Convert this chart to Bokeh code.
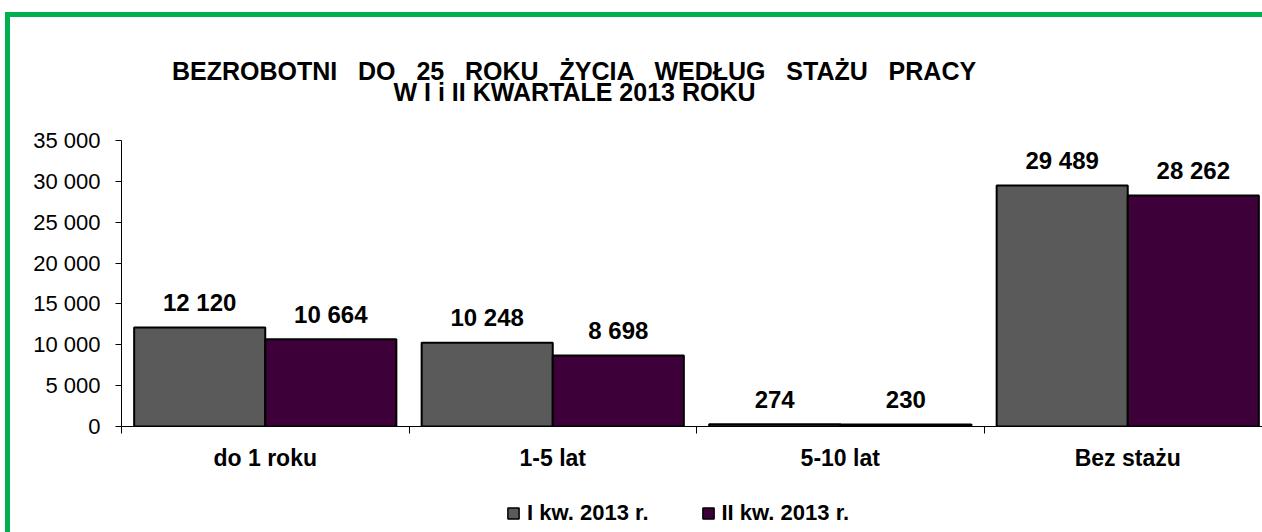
from bokeh.plotting import figure
from bokeh.models import (Range1d, FixedTicker, Label, Legend, LegendItem,
                          ColumnDataSource, Spacer)
from bokeh.layouts import column, row
from bokeh.transform import dodge
from bokeh.embed import file_html
from bokeh.resources import INLINE
from bokeh.core.properties import value

# ---------------- data ----------------
categories = ["do 1 roku", "1-5 lat", "5-10 lat", "Bez stażu"]
series_names = ["I kw. 2013 r.", "II kw. 2013 r."]
q1_values = [12120, 10248, 274, 29489]
q2_values = [10664, 8698, 230, 28262]
y_ticks = [0, 5000, 10000, 15000, 20000, 25000, 30000, 35000]
title_words1 = ["BEZROBOTNI", "DO", "25", "ROKU", "ŻYCIA", "WEDŁUG", "STAŻU", "PRACY"]
title_line2 = "W I i II KWARTALE 2013 ROKU"

# ---------------- style ----------------
FONT_NAME = "Liberation Sans"
FONT = value(FONT_NAME)
GREY = "#5a5a5a"
PURPLE = "#3d0038"
GREEN = "#00b050"
WIDE_GAP = " \u00a0 "          # wide word spacing of the first title line


def fmt(v):
    return f"{v:,}".replace(",", " ")


TOTAL_W, TOTAL_H = 1262, 532
PAD_TOP, PAD_LEFT, BAR = 12, 5, 5
inner_x = PAD_LEFT + BAR           # 10
inner_y = PAD_TOP + BAR            # 17
FIG_W = TOTAL_W - inner_x          # 1252
TITLE_H = 108
MAIN_H = 361
LEG_H = TOTAL_H - inner_y - TITLE_H - MAIN_H   # 46
B_LEFT, B_TOP, B_BOTTOM = 111, 15, 60
frame_w = FIG_W - B_LEFT
cat_px = 287.5
x_end = frame_w / cat_px

# ---------------- title figure ----------------
# (the column aligns every figure's frame with the main plot's frame)
t = figure(width=FIG_W, height=TITLE_H, output_backend="svg", toolbar_location=None,
           x_range=Range1d(0, 1), y_range=Range1d(0, 1),
           x_axis_type=None, y_axis_type=None, min_border=0)
t.outline_line_color = None
t.grid.visible = False
for txt, base in ((WIDE_GAP.join(title_words1), 55), (title_line2, 34)):
    t.add_layout(Label(x=564 - B_LEFT, y=base, x_units="screen", y_units="screen", text=txt,
                       text_align="center", text_baseline="alphabetic",
                       text_font=FONT_NAME, text_font_style="bold",
                       text_font_size="25px", text_color="black"))

# ---------------- main figure ----------------
p = figure(width=FIG_W, height=MAIN_H, output_backend="svg", toolbar_location=None,
           x_range=Range1d(0, x_end), y_range=Range1d(0, y_ticks[-1]),
           min_border_left=B_LEFT, min_border_top=B_TOP,
           min_border_bottom=B_BOTTOM, min_border_right=0)
p.outline_line_color = None
p.xgrid.visible = False
p.ygrid.visible = False

xs = [i + 0.5 for i in range(len(categories))]
src = ColumnDataSource(dict(
    x=xs, q1=q1_values, q2=q2_values,
    l1=[fmt(v) for v in q1_values], l2=[fmt(v) for v in q2_values]))

OFF = 0.228
BW = 0.456
bar_style = dict(line_color="black", line_width=2)
r1 = p.vbar(x=dodge("x", -OFF), top="q1", width=BW, source=src, fill_color=GREY, **bar_style)
r2 = p.vbar(x=dodge("x", OFF), top="q2", width=BW, source=src, fill_color=PURPLE, **bar_style)

for col, ycol, off in (("l1", "q1", -OFF), ("l2", "q2", OFF)):
    p.text(x=dodge("x", off), y=ycol, text=col, source=src,
           text_align="center", text_baseline="alphabetic", y_offset=-25,
           text_font=FONT, text_font_style="bold", text_font_size="24px",
           text_color="black")

# y axis
ya = p.yaxis[0]
ya.ticker = FixedTicker(ticks=y_ticks, minor_ticks=[])
ya.major_label_overrides = {tk: fmt(tk) for tk in y_ticks}
ya.major_tick_out = 6
ya.major_tick_in = 0
ya.minor_tick_out = 0
ya.minor_tick_in = 0
ya.major_label_standoff = 15
ya.major_label_text_font = FONT_NAME
ya.major_label_text_font_size = "22px"
ya.major_label_text_color = "black"
ya.axis_line_color = "black"
ya.major_tick_line_color = "black"

# x axis
xa = p.xaxis[0]
xa.ticker = FixedTicker(ticks=xs, minor_ticks=list(range(len(categories) + 1)))
xa.major_label_overrides = {x: c for x, c in zip(xs, categories)}
xa.major_tick_out = 0
xa.major_tick_in = 0
xa.minor_tick_out = 7
xa.minor_tick_in = 0
xa.minor_tick_line_color = "black"
xa.major_label_standoff = 11
xa.major_label_text_font = FONT_NAME
xa.major_label_text_font_style = "bold"
xa.major_label_text_font_size = "23px"
xa.major_label_text_color = "black"
xa.axis_line_color = "black"

# ---------------- legend figure ----------------
# square keys from the same data; the ranges keep the points out of view so only the keys show
lg = figure(width=FIG_W, height=LEG_H, output_backend="svg", toolbar_location=None,
            x_range=Range1d(-20, -19), y_range=Range1d(-20, -19),
            x_axis_type=None, y_axis_type=None, min_border=0)
lg.outline_line_color = None
lg.grid.visible = False
key_style = dict(marker="square", size=11, line_color="black", line_width=1.5)
k1 = lg.scatter(x=dodge("x", -OFF), y="q1", source=src, fill_color=GREY, **key_style)
k2 = lg.scatter(x=dodge("x", OFF), y="q2", source=src, fill_color=PURPLE, **key_style)
legend = Legend(items=[LegendItem(label=series_names[0], renderers=[k1]),
                       LegendItem(label=series_names[1], renderers=[k2])],
                orientation="horizontal", location=(378, 5),
                padding=0, margin=0, border_line_color=None,
                background_fill_alpha=0, glyph_width=28, glyph_height=28,
                label_standoff=0, spacing=45, label_height=28,
                label_text_font=FONT_NAME, label_text_font_style="bold",
                label_text_font_size="22px", label_text_color="black")
lg.add_layout(legend)

# ---------------- green frame (top and left edges) ----------------
green = {"background-color": GREEN}
layout = column(
    Spacer(width=TOTAL_W, height=PAD_TOP),
    row(
        Spacer(width=PAD_LEFT, height=TOTAL_H - PAD_TOP),
        Spacer(width=BAR, height=TOTAL_H - PAD_TOP, styles=green),
        column(Spacer(width=FIG_W, height=BAR, styles=green), t, p, lg),
    ),
)

open("out.html", "w").write(file_html(layout, INLINE))
